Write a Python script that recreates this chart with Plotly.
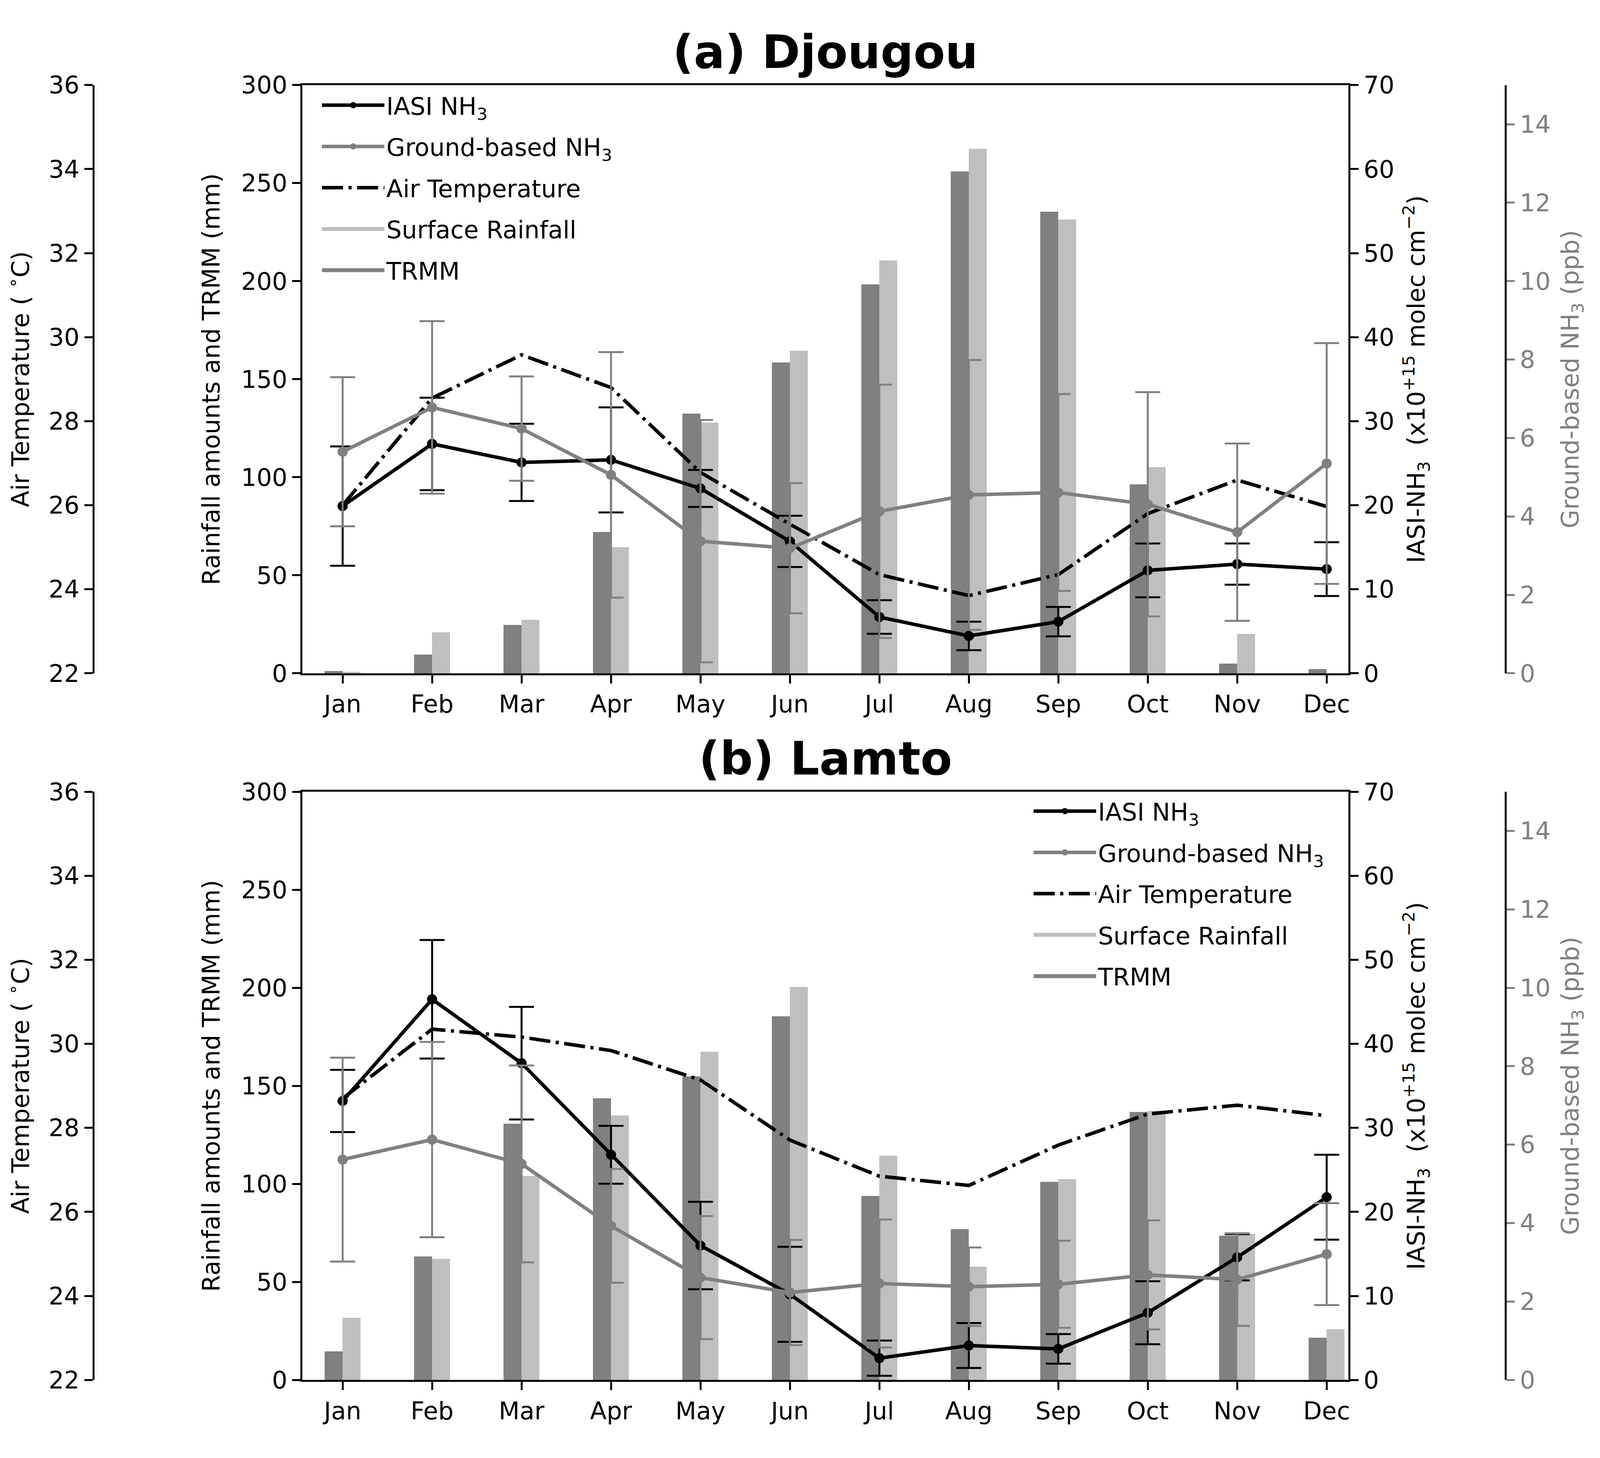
import plotly.graph_objects as go

months = ['Jan', 'Feb', 'Mar', 'Apr', 'May', 'Jun', 'Jul', 'Aug', 'Sep', 'Oct', 'Nov', 'Dec']
xpos = list(range(12))

# (a) Djougou
trmm_a = [1.2, 9.7, 24.7, 72.1, 132.5, 158.5, 198.5, 256.0, 235.5, 96.5, 5.0, 2.2]
surf_a = [0.9, 21.0, 27.4, 64.4, 128.0, 164.5, 210.5, 267.5, 231.5, 105.2, 20.2, 0.0]
iasi_a = [19.9, 27.3, 25.1, 25.4, 22.0, 15.7, 6.7, 4.45, 6.15, 12.25, 13.0, 12.4]
iasi_err_a = [7.1, 5.5, 4.6, 6.25, 2.2, 3.05, 2.0, 1.7, 1.75, 3.2, 2.45, 3.2]
ground_a = [5.65, 6.78, 6.24, 5.06, 3.37, 3.19, 4.13, 4.55, 4.61, 4.31, 3.6, 5.35]
ground_err_a = [1.9, 2.2, 1.33, 3.13, 3.09, 1.66, 3.23, 3.44, 2.51, 2.86, 2.26, 3.07]
temp_a = [26.0, 28.55, 29.58, 28.8, 26.78, 25.55, 24.35, 23.85, 24.35, 25.8, 26.6, 25.97]

# (b) Lamto
trmm_b = [14.6, 63.0, 130.7, 143.7, 154.8, 185.5, 93.9, 77.0, 101.0, 136.7, 73.5, 21.6]
surf_b = [31.8, 61.8, 104.0, 134.8, 167.3, 200.5, 114.3, 57.9, 102.5, 137.3, 74.5, 25.9]
iasi_b = [33.2, 45.3, 37.7, 26.8, 16.0, 10.2, 2.6, 4.1, 3.7, 8.0, 14.6, 21.75]
iasi_err_b = [3.7, 7.05, 6.7, 3.45, 5.2, 5.65, 2.1, 2.67, 1.76, 3.75, 2.75, 5.05]
ground_b = [5.62, 6.13, 5.51, 3.93, 2.61, 2.23, 2.46, 2.38, 2.44, 2.68, 2.56, 3.21]
ground_err_b = [2.6, 2.49, 2.51, 1.45, 1.57, 1.34, 1.63, 1.0, 1.11, 1.39, 1.18, 1.3]
temp_b = [28.7, 30.35, 30.16, 29.84, 29.14, 27.71, 26.85, 26.63, 27.59, 28.33, 28.54, 28.29]

titles = ['<b>(a) Djougou</b>', '<b>(b) Lamto</b>']

FONT = 'DejaVu Sans'
FS = 62
GRAY = '#808080'
LIGHT = '#bfbfbf'

# the browser viewport is 4096 px wide; keep the reference proportions inside it
RW, RH = 4565.0, 3733.0          # reference frame used for the fractions below
W, H = 4080, 3717
xdom = [858 / RW, 3857.6 / RW]
ydoms = [[1 - 1721 / RH, 1 - 178 / RH], [1 - 3574.5 / RH, 1 - 2031.5 / RH]]
temp_pos = 258.5 / RW
ground_pos = 4307.8 / RW

fig = go.Figure()

panels = [
    (trmm_a, surf_a, iasi_a, iasi_err_a, ground_a, ground_err_a, temp_a),
    (trmm_b, surf_b, iasi_b, iasi_err_b, ground_b, ground_err_b, temp_b),
]

for i, (trmm, surf, iasi, iasi_err, ground, ground_err, temp) in enumerate(panels):
    xa = 'x' if i == 0 else 'x2'
    base = 1 + 4 * i
    yr, yt, yi, yg = ['y' if base + k == 1 else 'y%d' % (base + k) for k in range(4)]
    leg = 'legend' if i == 0 else 'legend2'
    fig.add_trace(go.Bar(x=xpos, y=trmm, offset=-0.2, width=0.2, name='TRMM',
                         marker=dict(color=GRAY, line=dict(width=0)), showlegend=False,
                         xaxis=xa, yaxis=yr, legend=leg))
    fig.add_trace(go.Bar(x=xpos, y=surf, offset=0.0, width=0.2, name='Surface Rainfall',
                         marker=dict(color=LIGHT, line=dict(width=0)), showlegend=False,
                         xaxis=xa, yaxis=yr, legend=leg))
    # legend keys for the bars (wide patches)
    fig.add_trace(go.Scatter(x=[None], y=[None], mode='lines', name='Surface Rainfall',
                             line=dict(color=LIGHT, width=48),
                             xaxis=xa, yaxis=yr, legend=leg, legendrank=4, legendgroup='g4%d' % i))
    fig.add_trace(go.Scatter(x=[None], y=[None], mode='lines', name='TRMM',
                             line=dict(color=GRAY, width=48),
                             xaxis=xa, yaxis=yr, legend=leg, legendrank=5, legendgroup='g5%d' % i))
    fig.add_trace(go.Scatter(x=xpos, y=temp, mode='lines', name='Air Temperature',
                             line=dict(color='black', width=9, dash='54px,14px,8px,14px'),
                             xaxis=xa, yaxis=yt, legend=leg, legendrank=3, legendgroup='g3%d' % i))
    fig.add_trace(go.Scatter(x=xpos, y=iasi, mode='lines+markers', name='IASI NH<sub>3</sub>',
                             line=dict(color='black', width=9),
                             marker=dict(color='black', size=26),
                             error_y=dict(type='data', array=iasi_err, color='black', thickness=5, width=32),
                             xaxis=xa, yaxis=yi, legend=leg, legendrank=1, legendgroup='g1%d' % i))
    fig.add_trace(go.Scatter(x=xpos, y=ground, mode='lines+markers', name='Ground-based NH<sub>3</sub>',
                             line=dict(color=GRAY, width=9),
                             marker=dict(color=GRAY, size=26),
                             error_y=dict(type='data', array=ground_err, color=GRAY, thickness=5, width=32),
                             xaxis=xa, yaxis=yg, legend=leg, legendrank=2, legendgroup='g2%d' % i))

    tickcommon = dict(ticks='outside', ticklen=21, tickwidth=5, tickcolor='black',
                      showline=True, linewidth=5, linecolor='black', showgrid=False,
                      zeroline=False, tickfont=dict(family=FONT, size=FS, color='black'))
    xname = 'xaxis' if i == 0 else 'xaxis2'
    fig.layout[xname] = dict(domain=xdom, range=[-0.45, 11.245], tickvals=xpos, ticktext=months,
                             anchor=yr, mirror=True, **tickcommon)
    ydom = ydoms[i]
    names = ['yaxis' if base + k == 1 else 'yaxis%d' % (base + k) for k in range(4)]
    fig.layout[names[0]] = dict(domain=ydom, range=[0, 300], tickvals=list(range(0, 301, 50)),
                                anchor=xa, side='left',
                                title=dict(text='Rainfall amounts and TRMM (mm)', standoff=36,
                                           font=dict(family=FONT, size=FS, color='black')),
                                **tickcommon)
    fig.layout[names[1]] = dict(overlaying=yr, anchor='free', position=temp_pos, side='left',
                                range=[22, 36], tickvals=list(range(22, 37, 2)),
                                title=dict(text='Air Temperature ( <sup>∘</sup>C)', standoff=42,
                                           font=dict(family=FONT, size=FS, color='black')),
                                **tickcommon)
    fig.layout[names[2]] = dict(overlaying=yr, anchor=xa, side='right', range=[0, 70],
                                tickvals=list(range(0, 71, 10)),
                                title=dict(text='IASI-NH<sub>3</sub>  (x10<sup>+15</sup> molec cm<sup>−2</sup>)',
                                           standoff=36, font=dict(family=FONT, size=FS, color='black')),
                                **tickcommon)
    gcommon = dict(tickcommon)
    gcommon['tickcolor'] = GRAY
    gcommon['tickfont'] = dict(family=FONT, size=FS, color=GRAY)
    fig.layout[names[3]] = dict(overlaying=yr, anchor='free', position=ground_pos, side='right',
                                range=[0, 15], tickvals=list(range(0, 15, 2)),
                                title=dict(text='Ground-based NH<sub>3</sub> (ppb)', standoff=28,
                                           font=dict(family=FONT, size=FS, color=GRAY)),
                                **gcommon)
    fig.add_annotation(text=titles[i], xref='paper', yref='paper', x=(xdom[0] + xdom[1]) / 2,
                       y=ydom[1], xanchor='center', yanchor='bottom', yshift=14, showarrow=False,
                       font=dict(family=FONT, size=118, color='black'))

legcommon = dict(font=dict(family=FONT, size=FS, color='black'), bgcolor='rgba(255,255,255,0)',
                 borderwidth=0, itemwidth=160, traceorder='grouped', tracegroupgap=22,
                 xanchor='left', yanchor='top')
fig.update_layout(
    width=W, height=H, autosize=False,
    margin=dict(l=0, r=0, t=0, b=0),
    paper_bgcolor='white', plot_bgcolor='white',
    barmode='overlay', bargap=0,
    font=dict(family=FONT, size=FS, color='black'),
    legend=dict(x=0.199, y=0.951, **legcommon),
    legend2=dict(x=0.646, y=0.455, **legcommon),
)

fig.write_html('out.html')
